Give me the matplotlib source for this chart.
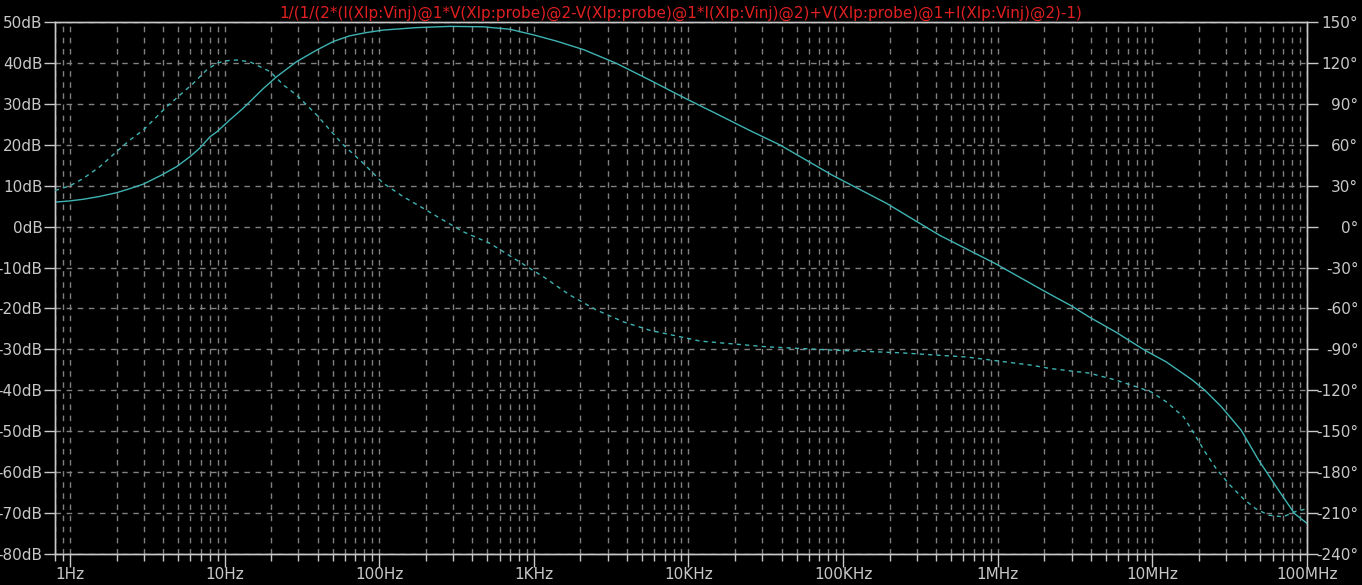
import matplotlib
matplotlib.use("Agg")
import matplotlib.pyplot as plt
from matplotlib.ticker import FixedLocator, LogLocator, NullFormatter

# ---- data ----
mag_freq = [0.8, 1.0, 1.22, 1.56, 2.0, 2.44, 2.98, 3.9, 4.9, 5.96, 6.9, 8.05, 8.9, 10.8,
            13.2, 14.6, 17.8, 21.7, 29.3, 39.4, 50.4, 64.5, 83, 106, 136, 175, 286, 470,
            700, 1000, 1400, 2100, 3400, 5600, 9300, 15200, 25000, 39000, 85000, 191000,
            420000, 960000, 2.05e6, 3.0e6, 3.9e6, 5.8e6, 8.9e6, 1.23e7, 1.81e7, 2.18e7,
            2.8e7, 3.75e7, 4.86e7, 6.55e7, 8.3e7, 1e8]
mag_db = [6.0, 6.3, 6.7, 7.4, 8.3, 9.3, 10.4, 12.6, 14.7, 17.1, 19.2, 22.0, 23.2, 26.1,
          29.0, 30.6, 33.8, 36.7, 40.4, 43.2, 45.3, 46.7, 47.5, 48.1, 48.4, 48.7, 49.0, 48.9,
          48.3, 46.9, 45.4, 43.3, 40.0, 35.9, 31.6, 27.6, 23.5, 20.0, 12.6, 5.7,
          -2.1, -9.0, -16.0, -19.4, -22.1, -25.8, -30.2, -33.1, -37.5, -40.0,
          -44.1, -49.8, -57.1, -64.5, -70.2, -72.6]

ph_freq = [0.8, 1.0, 1.22, 1.56, 2.0, 2.44, 2.98, 3.64, 4.22, 5.14, 6.27, 7.65, 8.9, 10.3,
           12, 14.6, 16.1, 19.7, 24, 29.2, 39.4, 48, 58.6, 78.9, 106, 143, 193, 240, 350,
           521, 775, 1152, 1714, 2553, 3797, 5600, 11900, 32000, 85000, 235000, 630000,
           1.65e6, 2.15e6, 2.9e6, 3.9e6, 5.8e6, 7.9e6, 9.9e6, 1.23e7, 1.59e7, 1.86e7,
           2.18e7, 2.6e7, 3.13e7, 3.9e7, 4.65e7, 5.65e7, 7.0e7, 8.3e7, 1e8]
ph_deg = [26.5, 30, 35.4, 44, 55, 63.6, 70.9, 80.7, 88, 96.6, 105.2, 115, 120, 121.8,
          122.3, 121, 118.6, 113.8, 104, 96.6, 82, 70.9, 60, 46.5, 31.9, 22, 13.4, 7, -3.8,
          -12.3, -24.6, -36.8, -50.3, -61.3, -69.9, -76, -84, -88.2, -90.6, -92.6, -95.7,
          -101.7, -104, -105.8, -107.5, -112.6, -117.6, -121.5, -128.6, -139.6, -151.8,
          -165, -178, -189, -200, -207, -211.8, -213, -209.4, -207]

x_ticks = [1, 10, 100, 1e3, 1e4, 1e5, 1e6, 1e7, 1e8]
x_labels = ["1Hz", "10Hz", "100Hz", "1KHz", "10KHz", "100KHz", "1MHz", "10MHz", "100MHz"]
db_ticks = list(range(50, -90, -10))
db_labels = [f"{v}dB" for v in db_ticks]
deg_ticks = list(range(150, -270, -30))
deg_labels = [f"{v}\u00b0" for v in deg_ticks]
title = "1/(1/(2*(I(Xlp:Vinj)@1*V(Xlp:probe)@2-V(Xlp:probe)@1*I(Xlp:Vinj)@2)+V(Xlp:probe)@1+I(Xlp:Vinj)@2)-1)"

# ---- styling ----
W, H = 1362, 585
fig = plt.figure(figsize=(W / 100, H / 100), dpi=100, facecolor="black")
L, R, T, B = 55, 1307, 22.3, 553.6
ax = fig.add_axes([L / W, (H - B) / H, (R - L) / W, (B - T) / H])
ax.set_facecolor("black")
trace = "#3fb3b3"
axis_col = "#c8c8c8"
grid_col = "#808080"
lab_col = "#c8c8c8"
fs = 11

ax.set_xscale("log")
ax.set_xlim(0.8, 1e8)
ax.set_ylim(-80, 50)
ax.plot(mag_freq, mag_db, color=trace, lw=1.0, zorder=3)

ax.xaxis.set_major_locator(FixedLocator(x_ticks))
ax.set_xticklabels(x_labels)
ax.xaxis.set_minor_locator(LogLocator(base=10, subs=range(2, 10), numticks=20))
ax.xaxis.set_minor_formatter(NullFormatter())
ax.set_yticks(db_ticks)
ax.set_yticklabels(db_labels)

ax.grid(True, which="major", axis="both", color=grid_col, lw=1, linestyle=(0, (4, 4)))
ax.grid(True, which="minor", axis="x", color=grid_col, lw=1, linestyle=(0, (4, 4)))
ax.set_axisbelow(True)

ax.tick_params(axis="x", which="major", length=9, width=1, color=axis_col,
               labelcolor=lab_col, labelsize=fs, pad=1, direction="out")
ax.tick_params(axis="x", which="minor", length=5, width=1, color=axis_col, direction="out")
ax.tick_params(axis="y", which="major", length=8, width=1, color=axis_col,
               labelcolor=lab_col, labelsize=fs, pad=1, direction="out")
for s in ax.spines.values():
    s.set_color(axis_col)
    s.set_linewidth(1)

ax2 = ax.twinx()
ax2.set_ylim(-240, 150)
ax2.plot(ph_freq, ph_deg, color=trace, lw=1.0, linestyle=(0, (3, 3)), zorder=3)
ax2.set_yticks(deg_ticks)
ax2.set_yticklabels(deg_labels)
ax2.tick_params(axis="y", which="major", length=8, width=1, color=axis_col,
                labelcolor=lab_col, labelsize=fs, pad=29, direction="out")
for lbl in ax2.get_yticklabels():
    lbl.set_horizontalalignment("right")
for s in ax2.spines.values():
    s.set_color(axis_col)
    s.set_linewidth(1)

ax.set_title(title, color="#e02020", fontsize=11, pad=3,
             family=["Liberation Sans Narrow", "DejaVu Sans"])

fig.savefig("out.png", dpi=100, facecolor="black")
